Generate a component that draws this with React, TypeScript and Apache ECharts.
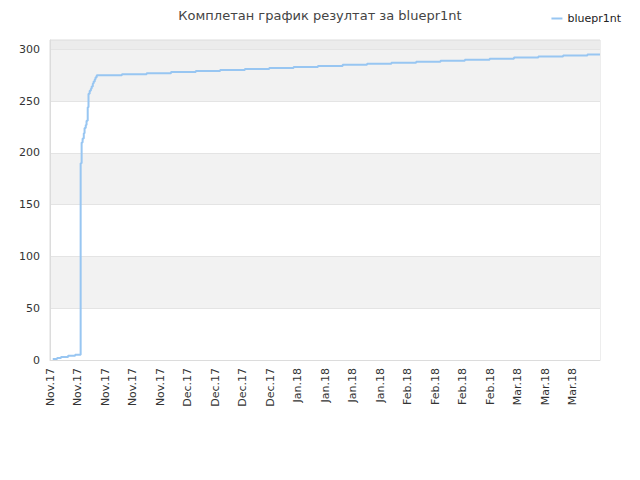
import { useEffect, useRef } from "react";
import * as echarts from "echarts";

const weekLabels = [
  "Nov.17", "Nov.17", "Nov.17", "Nov.17", "Nov.17",
  "Dec.17", "Dec.17", "Dec.17", "Dec.17",
  "Jan.18", "Jan.18", "Jan.18", "Jan.18",
  "Feb.18", "Feb.18", "Feb.18", "Feb.18",
  "Mar.18", "Mar.18", "Mar.18",
];

// day offsets from the first label and cumulative score at that moment
const days = [
  0.7, 1.8, 2.8, 4.6, 6.4, 7.8, 8.05, 8.3, 8.6, 8.8, 9.1, 9.3, 9.6, 9.8,
  10.1, 10.4, 10.6, 10.9, 11.1, 11.4, 11.6, 11.9,
  18.3, 24.6, 30.8, 37.1, 43.3, 49.6, 55.8, 62.0, 68.2, 74.5, 80.7, 86.9,
  93.2, 99.4, 105.6, 111.9, 118.1, 124.3, 130.6, 136.8, 140,
];
const scores = [
  1, 2, 3, 4, 5, 190, 210, 214, 219, 224, 227, 231, 244, 257,
  260, 262, 264, 267, 269, 271, 273, 275,
  276, 277, 278, 279, 280, 281, 282, 283, 284, 285, 286, 287,
  288, 289, 290, 291, 292, 293, 294, 295, 295,
];

const FONT = "DejaVu Sans";

export default function App() {
  const chartRef = useRef<HTMLDivElement>(null);

  useEffect(() => {
    if (!chartRef.current) return;
    const chart = echarts.init(chartRef.current, null, { renderer: "svg" });

    chart.setOption({
      animation: false,
      title: {
        text: "Комплетан график резултат за bluepr1nt",
        left: "center",
        top: 4,
        textStyle: { fontFamily: FONT, fontSize: 13, fontWeight: "normal", color: "#444" },
      },
      legend: {
        right: 14,
        top: 8,
        icon: "rect",
        itemWidth: 11,
        itemHeight: 2,
        itemGap: 6,
        textStyle: { fontFamily: FONT, fontSize: 11, color: "#222" },
        data: ["bluepr1nt"],
      },
      grid: {
        left: 50,
        right: 40,
        top: 40,
        bottom: 120,
        show: true,
        borderColor: "#dcdcdc",
        borderWidth: 1,
      },
      xAxis: {
        type: "value",
        min: 0,
        max: 140,
        interval: 7,
        axisLine: { show: true, lineStyle: { color: "#dcdcdc" } },
        axisTick: { show: false },
        splitLine: { show: false },
        axisLabel: {
          rotate: 90,
          margin: 8,
          fontFamily: FONT,
          fontSize: 11,
          color: "#333",
          formatter: (v: number) => weekLabels[Math.round(v / 7)] ?? "",
        },
      },
      yAxis: {
        type: "value",
        min: 0,
        max: 309,
        interval: 50,
        axisLine: { show: true, lineStyle: { color: "#dcdcdc" } },
        axisTick: { show: false },
        axisLabel: {
          margin: 10,
          fontFamily: FONT,
          fontSize: 11,
          color: "#333",
          showMaxLabel: false,
        },
        splitLine: { show: true, lineStyle: { color: "#e4e4e4" } },
        splitArea: {
          show: true,
          areaStyle: {
            color: ["#ffffff", "#f2f2f2", "#ffffff", "#f2f2f2", "#ffffff", "#f2f2f2", "#ececec"],
          },
        },
      },
      series: [
        {
          name: "bluepr1nt",
          type: "line",
          step: "end",
          showSymbol: false,
          symbol: "none",
          lineStyle: { color: "#98c6f2", width: 2 },
          itemStyle: { color: "#98c6f2" },
          data: days.map((d, i) => [d, scores[i]]),
        },
      ],
    });

    return () => chart.dispose();
  }, []);

  return <div ref={chartRef} style={{ width: 640, height: 480, margin: -8 }} />;
}
